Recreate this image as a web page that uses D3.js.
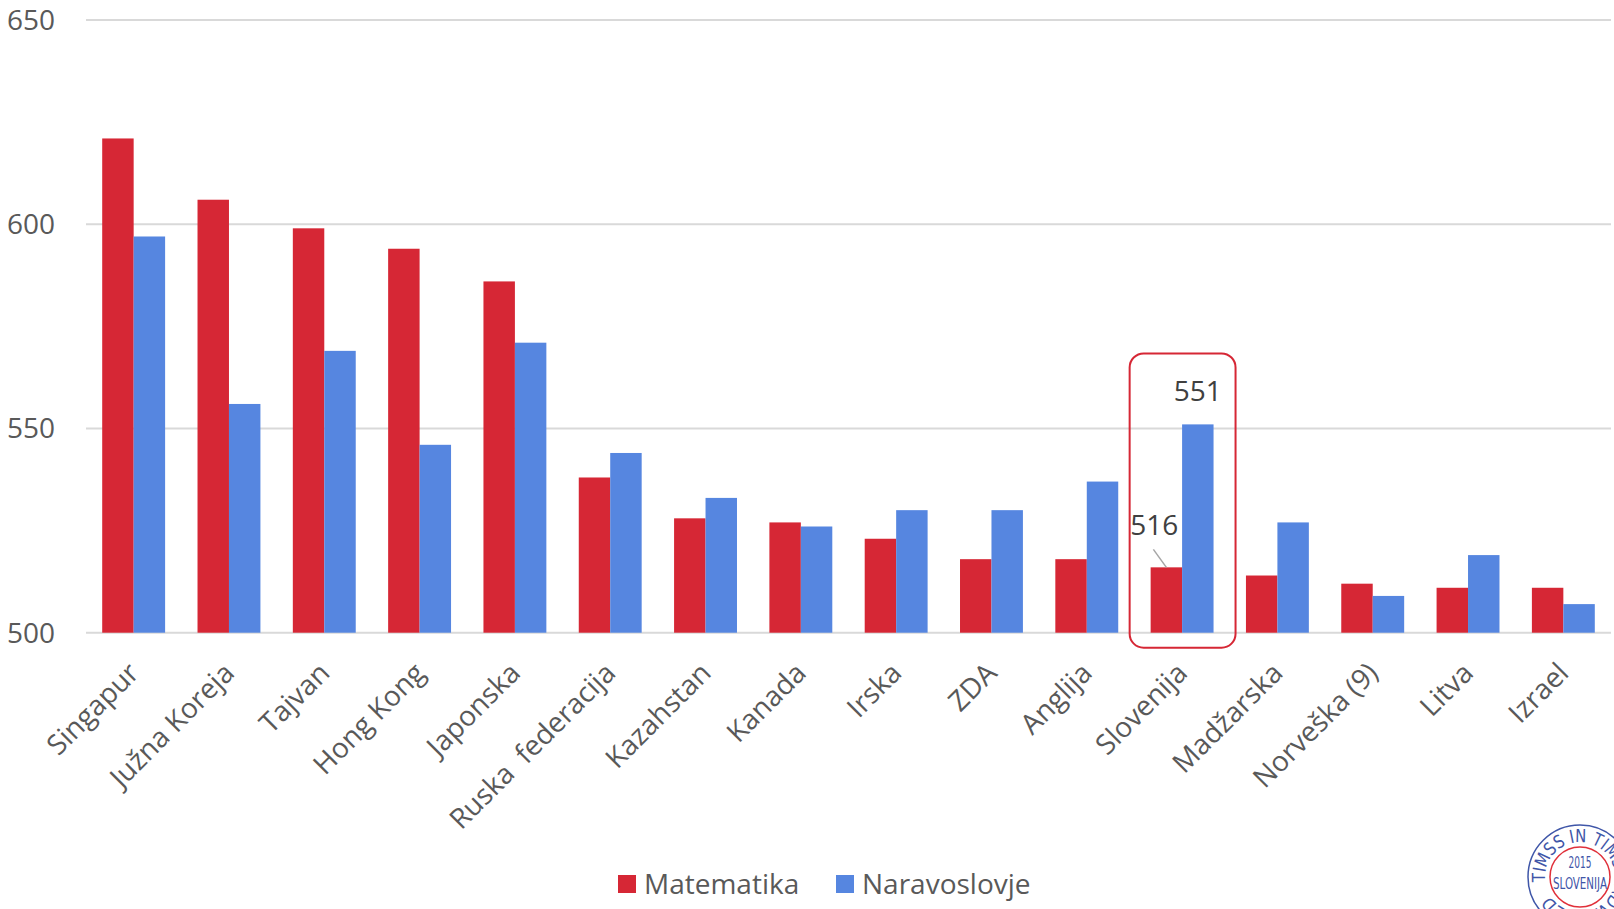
<!DOCTYPE html>
<html>
<head>
<meta charset="utf-8">
<script src="https://cdn.jsdelivr.net/npm/d3@7"></script>
<style>
  html, body { margin: 0; padding: 0; background: #fff; }
  svg { display: block; font-family: "Open Sans", "Noto Sans", sans-serif; }
  .seal text { font-family: "DejaVu Sans", sans-serif; font-stretch: condensed; }
</style>
</head>
<body>
<svg id="chart" width="1614" height="909"></svg>
<script>
// TIMSS 2015, 8. razred: povprečni dosežki po državah
const countries = ["Singapur", "Južna Koreja", "Tajvan", "Hong Kong", "Japonska",
  "Ruska  federacija", "Kazahstan", "Kanada", "Irska", "ZDA", "Anglija",
  "Slovenija", "Madžarska", "Norveška (9)", "Litva", "Izrael"];
const matematika = [621, 606, 599, 594, 586, 538, 528, 527, 523, 518, 518, 516, 514, 512, 511, 511];
const naravoslovje = [597, 556, 569, 546, 571, 544, 533, 526, 530, 530, 537, 551, 527, 509, 519, 507];
const seriesNames = ["Matematika", "Naravoslovje"];
const yTicks = [500, 550, 600, 650];
const highlighted = "Slovenija";

(function draw() {
const colors = ["#d62735", "#5686e0"];
const svg = d3.select("#chart");

const plotLeft = 86, plotRight = 1611, plotTop = 20, plotBottom = 632.7;

const x = d3.scaleBand().domain(countries).range([plotLeft, plotRight])
  .paddingInner(0.34).paddingOuter(0.17);
const xs = d3.scaleBand().domain(seriesNames).range([0, x.bandwidth()]);
const y = d3.scaleLinear().domain([500, 650]).range([plotBottom, plotTop]);

// gridlines
svg.append("g").selectAll("line").data(yTicks).join("line")
  .attr("x1", plotLeft).attr("x2", plotRight)
  .attr("y1", d => y(d)).attr("y2", d => y(d))
  .attr("stroke", "#d9d9d9").attr("stroke-width", 2);

// y axis labels
const yAxis = svg.append("g").attr("transform", `translate(55,0)`)
  .call(d3.axisLeft(y).tickValues(yTicks).tickSize(0).tickPadding(0));
yAxis.select(".domain").remove();
yAxis.selectAll("text").attr("font-size", 28).attr("fill", "#595959")
  .attr("font-family", "Open Sans, sans-serif").attr("dy", "0.34em");

// bars
const rows = countries.map((c, i) => ({ c, vals: [matematika[i], naravoslovje[i]] }));
const groups = svg.append("g").selectAll("g").data(rows).join("g")
  .attr("transform", d => `translate(${x(d.c)},0)`);
groups.selectAll("rect").data(d => d.vals.map((v, k) => ({ v, k }))).join("rect")
  .attr("x", d => xs(seriesNames[d.k]))
  .attr("width", xs.bandwidth())
  .attr("y", d => y(d.v))
  .attr("height", d => y(500) - y(d.v))
  .attr("fill", d => colors[d.k]);

// x axis labels (rotated)
const xAxis = svg.append("g").attr("transform", `translate(0,${plotBottom})`)
  .call(d3.axisBottom(x).tickSize(0).tickPadding(0));
xAxis.select(".domain").remove();
xAxis.selectAll("text")
  .attr("font-size", 28).attr("fill", "#595959")
  .attr("font-family", "Open Sans, sans-serif")
  .style("white-space", "pre")
  .attr("text-anchor", "end")
  .attr("dy", null).attr("y", 0)
  .attr("transform", "translate(7,42) rotate(-45)");

// highlighted country: box and value labels
const hi = countries.indexOf(highlighted);
const hx = x(highlighted);
svg.append("rect")
  .attr("x", hx - 21).attr("width", x.bandwidth() + 43)
  .attr("y", y(naravoslovje[hi]) - 71)
  .attr("height", (y(500) + 15) - (y(naravoslovje[hi]) - 71))
  .attr("rx", 14).attr("ry", 14)
  .attr("fill", "none").attr("stroke", "#d62735").attr("stroke-width", 2);

const mx = hx + xs("Matematika") + xs.bandwidth() / 2;
const nx = hx + xs("Naravoslovje") + xs.bandwidth() / 2;
svg.append("text").attr("x", nx).attr("y", y(naravoslovje[hi]) - 23)
  .attr("text-anchor", "middle").attr("font-size", 28).attr("fill", "#404040")
  .text(naravoslovje[hi]);
svg.append("text").attr("x", mx - 12).attr("y", y(matematika[hi]) - 32)
  .attr("text-anchor", "middle").attr("font-size", 28).attr("fill", "#404040")
  .text(matematika[hi]);
svg.append("line")
  .attr("x1", mx - 13).attr("y1", y(matematika[hi]) - 18)
  .attr("x2", mx).attr("y2", y(matematika[hi]))
  .attr("stroke", "#a6a6a6").attr("stroke-width", 1.5);

// legend
const legend = svg.append("g");
const legendX = [618, 836];
seriesNames.forEach((s, k) => {
  legend.append("rect").attr("x", legendX[k]).attr("y", 875)
    .attr("width", 18).attr("height", 18).attr("fill", colors[k]);
  legend.append("text").attr("x", legendX[k] + 26).attr("y", 894)
    .attr("font-size", 28).attr("fill", "#595959").text(s);
});

// TIMSS logo seal, bottom right corner
const lg = svg.append("g").attr("class", "seal").attr("transform", "translate(1580,877)");
lg.append("circle").attr("r", 52).attr("fill", "#fff")
  .attr("stroke", "#3f56a8").attr("stroke-width", 1.5);
lg.append("circle").attr("r", 30).attr("fill", "none")
  .attr("stroke", "#e0303a").attr("stroke-width", 1.5);
const r = 35, a0 = 172 * Math.PI / 180;
const sx = r * Math.cos(a0), sy = r * Math.sin(a0);
lg.append("path").attr("id", "sealPath").attr("fill", "none")
  .attr("d", `M${sx},${sy} A${r},${r} 0 1 1 ${-sx},${-sy} A${r},${r} 0 1 1 ${sx},${sy}`);
lg.append("text").attr("font-size", 18).attr("fill", "#3f56a8")
  .append("textPath").attr("href", "#sealPath")
  .attr("textLength", 205).attr("lengthAdjust", "spacingAndGlyphs")
  .text("TIMSS IN TIMSS ADVANCED");
lg.append("text").attr("y", -9).attr("text-anchor", "middle")
  .attr("font-size", 16).attr("fill", "#3f56a8")
  .attr("textLength", 23).attr("lengthAdjust", "spacingAndGlyphs").text("2015");
lg.append("text").attr("y", 12).attr("text-anchor", "middle")
  .attr("font-size", 15).attr("fill", "#3f56a8")
  .attr("textLength", 54).attr("lengthAdjust", "spacingAndGlyphs").text("SLOVENIJA");
})();
</script>
</body>
</html>
